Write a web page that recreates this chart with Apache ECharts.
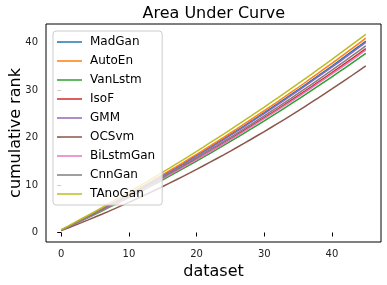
<!DOCTYPE html>
<html>
<head>
<meta charset="utf-8">
<script src="https://cdn.jsdelivr.net/npm/echarts@6/dist/echarts.min.js"></script>
<style>html,body{margin:0;padding:0;background:#fff}#c{width:387px;height:285px}</style>
</head>
<body>
<div id="c"></div>
<script>
const datasetIdx = [0,1,2,3,4,5,6,7,8,9,10,11,12,13,14,15,16,17,18,19,20,21,22,23,24,25,26,27,28,29,30,31,32,33,34,35,36,37,38,39,40,41,42,43,44,45];
const seriesNames = ['MadGan','AutoEn','VanLstm','IsoF','GMM','OCSvm','BiLstmGan','CnnGan','TAnoGan'];
const colors = ['#1f77b4','#ff7f0e','#2ca02c','#d62728','#9467bd','#8c564b','#e377c2','#7f7f7f','#bcbd22'];
const xTicks = [0,10,20,30,40];
const yTicks = [0,10,20,30,40];

const MadGan = [0.50,1.21,1.92,2.65,3.38,4.12,4.87,5.62,6.39,7.16,7.94,8.73,9.52,10.33,11.14,11.96,12.79,13.62,14.47,15.32,16.18,17.05,17.92,18.81,19.70,20.60,21.51,22.42,23.35,24.28,25.22,26.17,27.12,28.09,29.06,30.04,31.03,32.02,33.03,34.04,35.06,36.09,37.12,38.17,39.22,40.28];
const AutoEn = [0.50,1.22,1.95,2.69,3.44,4.19,4.95,5.72,6.50,7.29,8.08,8.88,9.69,10.51,11.34,12.17,13.01,13.86,14.72,15.59,16.46,17.34,18.23,19.13,20.04,20.95,21.87,22.80,23.74,24.69,25.64,26.60,27.57,28.55,29.54,30.53,31.53,32.54,33.56,34.59,35.62,36.66,37.71,38.77,39.84,40.91];
const VanLstm = [0.50,1.15,1.81,2.48,3.15,3.84,4.53,5.23,5.93,6.65,7.37,8.10,8.84,9.59,10.34,11.11,11.88,12.66,13.44,14.24,15.04,15.85,16.67,17.50,18.33,19.18,20.03,20.89,21.75,22.63,23.51,24.40,25.30,26.21,27.12,28.05,28.98,29.92,30.86,31.82,32.78,33.75,34.73,35.72,36.71,37.72];
const IsoF = [0.50,1.17,1.85,2.54,3.24,3.95,4.66,5.38,6.11,6.85,7.59,8.34,9.10,9.87,10.65,11.44,12.23,13.03,13.84,14.66,15.48,16.31,17.15,18.00,18.86,19.73,20.60,21.48,22.37,23.27,24.17,25.08,26.00,26.93,27.87,28.82,29.77,30.73,31.70,32.68,33.66,34.65,35.65,36.66,37.68,38.71];
const GMM = [0.50,1.20,1.91,2.63,3.36,4.09,4.83,5.58,6.34,7.11,7.88,8.66,9.45,10.25,11.06,11.87,12.69,13.52,14.36,15.21,16.06,16.92,17.79,18.67,19.56,20.45,21.35,22.26,23.18,24.11,25.04,25.98,26.93,27.89,28.86,29.83,30.81,31.80,32.80,33.81,34.82,35.84,36.87,37.91,38.96,40.01];
const OCSvm = [0.40,0.95,1.51,2.08,2.66,3.25,3.85,4.46,5.07,5.70,6.34,6.99,7.65,8.32,9.00,9.69,10.39,11.10,11.83,12.56,13.30,14.05,14.81,15.58,16.36,17.15,17.95,18.76,19.58,20.42,21.26,22.11,22.97,23.84,24.72,25.61,26.52,27.43,28.35,29.28,30.22,31.18,32.14,33.11,34.09,35.09];
const BiLstmGan = [0.50,1.17,1.84,2.52,3.21,3.91,4.62,5.33,6.05,6.78,7.52,8.27,9.02,9.78,10.55,11.33,12.12,12.91,13.71,14.52,15.34,16.17,17.00,17.84,18.69,19.55,20.42,21.29,22.17,23.06,23.96,24.87,25.78,26.70,27.63,28.57,29.52,30.47,31.43,32.40,33.38,34.37,35.36,36.36,37.37,38.39];
const CnnGan = [0.50,1.19,1.88,2.58,3.29,4.01,4.74,5.47,6.21,6.96,7.72,8.49,9.26,10.04,10.83,11.63,12.44,13.25,14.07,14.90,15.74,16.59,17.44,18.30,19.17,20.05,20.94,21.83,22.73,23.64,24.56,25.49,26.42,27.36,28.31,29.27,30.24,31.21,32.19,33.18,34.18,35.19,36.20,37.22,38.25,39.29];
const TAnoGan = [0.60,1.36,2.12,2.89,3.67,4.45,5.25,6.05,6.85,7.67,8.49,9.32,10.15,10.99,11.84,12.70,13.56,14.44,15.31,16.20,17.09,17.99,18.90,19.81,20.73,21.66,22.60,23.54,24.49,25.45,26.41,27.38,28.36,29.35,30.34,31.34,32.35,33.36,34.38,35.41,36.45,37.49,38.54,39.60,40.66,41.73];

const values = [MadGan, AutoEn, VanLstm, IsoF, GMM, OCSvm, BiLstmGan, CnnGan, TAnoGan];
const FONT = 'DejaVu Sans';

const chart = echarts.init(document.getElementById('c'), null, {renderer: 'canvas'});
chart.setOption({
  animation: false,
  backgroundColor: '#fff',
  color: colors,
  textStyle: {fontFamily: FONT},
  grid: {left: 46, right: 6, top: 24, bottom: 43, show: true, borderColor: '#000', borderWidth: 1, backgroundColor: 'transparent', containLabel: false, outerBoundsMode: 'none'},
  graphic: [{
    type: 'text', left: 213.5 - 71, top: 6,
    style: {text: 'Area Under Curve', font: '16px "DejaVu Sans"', fill: '#000'}
  }],
  legend: {
    orient: 'vertical', left: 53, top: 31,
    padding: [4, 7, 4, 4],
    itemGap: 5, itemWidth: 25, itemHeight: 14,
    icon: 'path://M0,0L50,0L50,3L0,3Z',
    symbolKeepAspect: true,
    backgroundColor: 'rgba(255,255,255,0.8)',
    borderColor: '#cccccc', borderWidth: 1, borderRadius: 3,
    textStyle: {fontFamily: FONT, fontSize: 12, color: '#000', lineHeight: 14, padding: [0, 0, 0, 3]},
    data: seriesNames
  },
  xAxis: {
    type: 'value', min: -2.25, max: 47.25,
    name: 'dataset', nameLocation: 'middle', nameGap: 22, nameMoveOverlap: false,
    nameTextStyle: {fontFamily: FONT, fontSize: 16, color: '#000'},
    axisLine: {show: false},
    splitLine: {show: false},
    axisTick: {show: true, customValues: xTicks, length: 4, inside: false, lineStyle: {color: '#000', width: 1}},
    axisLabel: {customValues: xTicks, fontFamily: FONT, fontSize: 10, color: '#222', margin: 7}
  },
  yAxis: {
    type: 'value', min: -2.0, max: 43.9,
    name: 'cumulative rank', nameLocation: 'middle', nameGap: 22, nameRotate: 90, nameMoveOverlap: false,
    nameTextStyle: {fontFamily: FONT, fontSize: 16, color: '#000'},
    axisLine: {show: false},
    splitLine: {show: false},
    axisTick: {show: true, customValues: yTicks, length: 4, inside: false, lineStyle: {color: '#000', width: 1}},
    axisLabel: {customValues: yTicks, fontFamily: FONT, fontSize: 10, color: '#222', margin: 8}
  },
  series: seriesNames.map((n, k) => ({
    name: n, type: 'line', showSymbol: false, symbol: 'none',
    lineStyle: {width: 1.5, color: colors[k]},
    itemStyle: {color: colors[k]},
    data: datasetIdx.map((x, i) => [x, values[k][i]])
  }))
});
</script>
</body>
</html>
